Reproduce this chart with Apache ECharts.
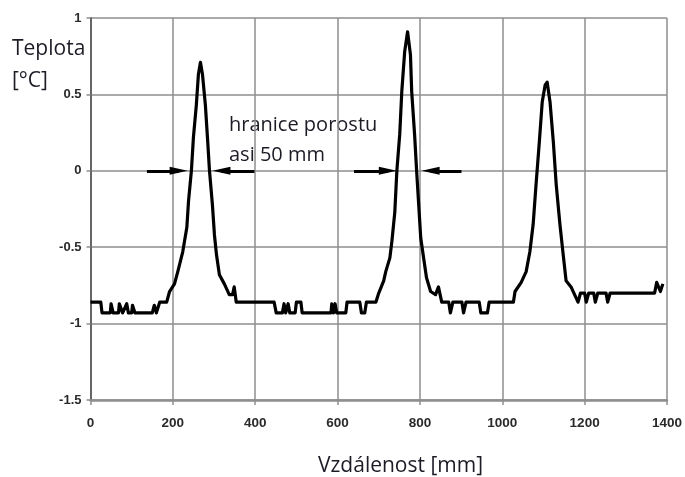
<!DOCTYPE html>
<html>
<head>
<meta charset="utf-8">
<script src="https://cdn.jsdelivr.net/npm/echarts@6/dist/echarts.min.js"></script>
<style>
  html, body { margin: 0; padding: 0; background: #ffffff; }
  #chart { width: 685px; height: 477px; }
</style>
</head>
<body>
<div id="chart"></div>
<script>
// Temperature profile across the surface: distance [mm] vs. temperature [°C]
const distance = [
  0, 25, 28, 48, 50, 55, 68, 70, 78, 88, 92, 100, 102, 108, 112, 150, 155, 160, 168, 185,
  192, 204, 212, 224, 234, 238, 245, 250, 257, 262, 267, 272, 279, 284, 289, 296, 301, 306, 313, 325,
  337, 345, 349, 354, 366, 446, 451, 466, 470, 474, 480, 484, 497, 500, 511, 514, 584, 586, 590, 594,
  598, 620, 623, 654, 658, 666, 670, 693, 700, 712, 717, 727, 732, 739, 744, 751, 756, 763, 770, 777,
  780, 787, 792, 797, 802, 809, 816, 826, 838, 845, 853, 870, 874, 880, 884, 902, 906, 912, 916, 944,
  948, 964, 968, 1027, 1031, 1046, 1058, 1067, 1075, 1082, 1090, 1097, 1104, 1109, 1116, 1124, 1131, 1140, 1148, 1155,
  1167, 1179, 1184, 1190, 1200, 1204, 1210, 1222, 1226, 1232, 1252, 1256, 1262, 1268, 1370, 1375, 1379, 1384, 1390
];
const temperature = [
  -0.86, -0.86, -0.93, -0.93, -0.87, -0.93, -0.93, -0.87, -0.93, -0.87, -0.93, -0.93, -0.88, -0.93, -0.93, -0.93, -0.88, -0.93, -0.86, -0.86,
  -0.79, -0.74, -0.66, -0.53, -0.37, -0.20, 0.00, 0.22, 0.43, 0.63, 0.71, 0.63, 0.43, 0.22, 0.00, -0.22, -0.42, -0.55, -0.68, -0.74,
  -0.81, -0.81, -0.76, -0.86, -0.86, -0.86, -0.93, -0.93, -0.87, -0.93, -0.87, -0.93, -0.93, -0.86, -0.86, -0.93, -0.93, -0.87, -0.93, -0.87,
  -0.93, -0.93, -0.86, -0.86, -0.93, -0.93, -0.86, -0.86, -0.80, -0.72, -0.66, -0.57, -0.46, -0.27, 0.00, 0.24, 0.52, 0.78, 0.91, 0.76,
  0.52, 0.24, 0.00, -0.22, -0.44, -0.57, -0.70, -0.79, -0.81, -0.76, -0.86, -0.86, -0.93, -0.86, -0.86, -0.86, -0.93, -0.86, -0.86, -0.86,
  -0.93, -0.93, -0.86, -0.86, -0.79, -0.73, -0.66, -0.53, -0.35, -0.09, 0.19, 0.45, 0.56, 0.58, 0.45, 0.19, -0.09, -0.35, -0.55, -0.72,
  -0.76, -0.83, -0.86, -0.80, -0.80, -0.86, -0.80, -0.80, -0.86, -0.80, -0.80, -0.86, -0.80, -0.80, -0.80, -0.73, -0.73, -0.79, -0.74
];

// Tick values of both axes
const xTicks = [0, 200, 400, 600, 800, 1000, 1200, 1400];
const yTicks = [-1.5, -1, -0.5, 0, 0.5, 1];

// Arrows marking the edge of the stand, [from, to] along the zero line
const arrowSpans = [[137, 214], [398, 318], [640, 722], [901, 826]];

const chart = echarts.init(document.getElementById('chart'), null, { renderer: 'canvas' });

const points = distance.map((d, i) => [d, temperature[i]]);
const gridColor = '#8e8e8e';
const textColor = '#1c1c26';
const titleFont = '"Open Sans", "Noto Sans", sans-serif';
const tickFont = '"Liberation Sans", Arial, sans-serif';

chart.setOption({
  animation: false,
  backgroundColor: '#ffffff',
  grid: { left: 90.5, right: 16, top: 18, bottom: 77, containLabel: false },
  xAxis: {
    type: 'value',
    min: xTicks[0],
    max: xTicks[xTicks.length - 1],
    interval: xTicks[1] - xTicks[0],
    axisLine: { show: true, onZero: false, lineStyle: { color: gridColor, width: 2.5 } },
    axisTick: { show: true, length: 5, lineStyle: { color: gridColor, width: 1.5 } },
    axisLabel: {
      margin: 16, color: '#2a2a2a', fontSize: 13.5, fontWeight: 'bold', fontFamily: tickFont,
      formatter: v => String(v)
    },
    splitLine: { show: true, lineStyle: { color: gridColor, width: 1.5 } }
  },
  yAxis: {
    type: 'value',
    min: yTicks[0],
    max: yTicks[yTicks.length - 1],
    interval: yTicks[1] - yTicks[0],
    axisLine: { show: true, onZero: false, lineStyle: { color: '#666666', width: 2 } },
    axisTick: { show: true, length: 4, lineStyle: { color: gridColor, width: 1.5 } },
    axisLabel: {
      margin: 9, color: '#2a2a2a', fontSize: 13, fontWeight: 'bold', fontFamily: tickFont,
      formatter: v => String(v)
    },
    splitLine: { show: true, lineStyle: { color: gridColor, width: 1.5 } }
  },
  series: [{
    type: 'line',
    data: points,
    symbol: 'none',
    smooth: false,
    lineStyle: { color: '#000000', width: 3.2, join: 'round' },
    z: 5,
    markLine: {
      silent: true,
      symbol: ['none', 'triangle'],
      symbolSize: [8, 18],
      label: { show: false },
      lineStyle: { color: '#000000', width: 3, type: 'solid' },
      data: arrowSpans.map(s => [
        { coord: [s[0], 0] },
        { coord: [s[1], 0] }
      ])
    }
  }],
  graphic: [
    { type: 'text', left: 12, top: 39, style: { text: 'Teplota', font: '21px ' + titleFont, fill: textColor } },
    { type: 'text', left: 12, top: 71, style: { text: '[°C]', font: '21px ' + titleFont, fill: textColor } },
    { type: 'text', left: 229, top: 115, style: { text: 'hranice porostu', font: '20px ' + titleFont, fill: textColor } },
    { type: 'text', left: 229, top: 145, style: { text: 'asi 50 mm', font: '20px ' + titleFont, fill: textColor } },
    { type: 'text', left: 318, top: 456, style: { text: 'Vzdálenost [mm]', font: '21px ' + titleFont, fill: textColor } }
  ]
});
</script>
</body>
</html>
